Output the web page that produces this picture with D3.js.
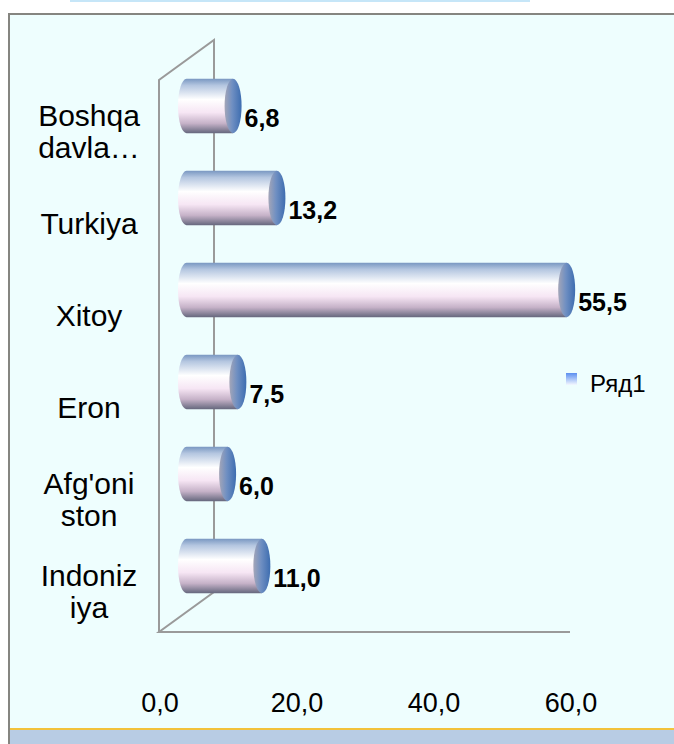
<!DOCTYPE html>
<html>
<head>
<meta charset="utf-8">
<script src="https://cdn.jsdelivr.net/npm/d3@7"></script>
<style>
  body { margin: 0; background: #fff; }
  svg { display: block; font-family: "Liberation Sans", Arial, sans-serif; }
</style>
</head>
<body>
<div id="chart"></div>
<script>
// categories from top to bottom, as in the picture
var categories = ["Boshqa davla…", "Turkiya", "Xitoy", "Eron", "Afg'oniston", "Indoneziya"];
var labelLines = [["Boshqa", "davla…"], ["Turkiya"], ["Xitoy"], ["Eron"], ["Afg'oni", "ston"], ["Indoniz", "iya"]];
var values = [6.8, 13.2, 55.5, 7.5, 6.0, 11.0];
var tickValues = [0, 20, 40, 60];
var seriesName = "Ряд1";

var width = 674, height = 744;
var svg = d3.select("#chart").append("svg")
    .attr("width", width)
    .attr("height", height);

var defs = svg.append("defs");

// cylinder body: blue top, white middle, pinkish, dark bottom
var bodyGrad = defs.append("linearGradient")
    .attr("id", "bodyGrad")
    .attr("x1", 0).attr("y1", 0).attr("x2", 0).attr("y2", 1);
[[0, "#7a98c2"], [0.12, "#b4c6e0"], [0.38, "#ffffff"], [0.62, "#f6e6f4"], [0.82, "#c6b2c8"], [1, "#66687e"]]
    .forEach(function (s) {
        bodyGrad.append("stop").attr("offset", s[0]).attr("stop-color", s[1]);
    });

var capGrad = defs.append("linearGradient")
    .attr("id", "capGrad")
    .attr("x1", 0).attr("y1", 0).attr("x2", 1).attr("y2", 0);
[[0, "#a4a6b8"], [0.45, "#6f8fc2"], [1, "#3d6db0"]]
    .forEach(function (s) {
        capGrad.append("stop").attr("offset", s[0]).attr("stop-color", s[1]);
    });

var legendGrad = defs.append("linearGradient")
    .attr("id", "legendGrad")
    .attr("x1", 0).attr("y1", 0).attr("x2", 0).attr("y2", 1);
legendGrad.append("stop").attr("offset", 0).attr("stop-color", "#5b8ff0");
legendGrad.append("stop").attr("offset", 1).attr("stop-color", "#f4f8ff");

// page pieces: top strip, frame, bottom band
svg.append("rect").attr("x", 70).attr("y", 0).attr("width", 460).attr("height", 2).attr("fill", "#c6e6f8");
svg.append("rect").attr("x", 9).attr("y", 14).attr("width", width - 9).attr("height", height - 14)
    .attr("fill", "#eefefe");
svg.append("rect").attr("x", 10).attr("y", 728).attr("width", width - 10).attr("height", 16).attr("fill", "#b8cce4");
svg.append("rect").attr("x", 10).attr("y", 728).attr("width", width - 10).attr("height", 2).attr("fill", "#f2c23c");
svg.append("rect").attr("x", 8).attr("y", 13).attr("width", width - 8).attr("height", 2).attr("fill", "#858580");
svg.append("rect").attr("x", 8).attr("y", 13).attr("width", 2).attr("height", height - 13).attr("fill", "#858580");

// scales (front plane of the 3d box)
var x = d3.scaleLinear().domain([0, 60]).range([159, 570]);
var y = d3.scaleBand().domain(categories).range([80, 632]);
var depthX = 55, depthY = -40;
var midX = depthX / 2, midY = depthY / 2;

// walls
var wall = svg.append("g").attr("stroke", "#9a9a9a").attr("stroke-width", 2).attr("fill", "none");
wall.append("path").attr("d", d3.line()([
    [x(0), y.range()[1]], [x(0), y.range()[0]], [x(0) + depthX, y.range()[0] + depthY],
    [x(0) + depthX, y.range()[1] + depthY], [x(0), y.range()[1]], [x(60), y.range()[1]]
]));

// bars as horizontal cylinders
var barH = y.bandwidth() * 0.59;
var rx = 8.5, ry = barH / 2;
var bars = svg.selectAll(".bar")
    .data(values)
    .enter().append("g")
    .attr("class", "bar");

bars.append("path")
    .attr("fill", "url(#bodyGrad)")
    .attr("d", function (d, i) {
        var x0 = x(0) + midX, x1 = x(d) + midX;
        var cy = y(categories[i]) + y.bandwidth() / 2 + midY;
        var top = cy - ry, bot = cy + ry;
        return "M" + x0 + "," + top + "L" + x1 + "," + top + "L" + x1 + "," + bot +
            "L" + x0 + "," + bot + "A" + rx + "," + ry + " 0 0 1 " + x0 + "," + top + "Z";
    });

bars.append("ellipse")
    .attr("fill", "url(#capGrad)")
    .attr("cx", function (d) { return x(d) + midX; })
    .attr("cy", function (d, i) { return y(categories[i]) + y.bandwidth() / 2 + midY; })
    .attr("rx", rx)
    .attr("ry", ry);

var fmt = function (v) { return d3.format(".1f")(v).replace(".", ","); };

// value labels
bars.append("text")
    .attr("x", function (d) { return x(d) + midX + rx + 3; })
    .attr("y", function (d, i) { return y(categories[i]) + y.bandwidth() / 2 + midY + 21; })
    .attr("font-size", 25)
    .attr("font-weight", "bold")
    .attr("fill", "#000")
    .text(fmt);

// category labels
var cat = svg.selectAll(".cat")
    .data(labelLines)
    .enter().append("text")
    .attr("class", "cat")
    .attr("text-anchor", "middle")
    .attr("font-size", 30)
    .attr("fill", "#000");
cat.each(function (lines, i) {
    var cy = y(categories[i]) + y.bandwidth() / 2 + 5;
    var lh = 32;
    var start = cy - (lines.length - 1) * lh / 2;
    d3.select(this).selectAll("tspan")
        .data(lines)
        .enter().append("tspan")
        .attr("x", 89)
        .attr("y", function (l, j) { return start + j * lh; })
        .attr("dy", "0.35em")
        .text(function (l) { return l; });
});

// x tick labels
svg.selectAll(".tick-label")
    .data(tickValues)
    .enter().append("text")
    .attr("class", "tick-label")
    .attr("x", function (d) { return x(d) + 1; })
    .attr("y", 712)
    .attr("text-anchor", "middle")
    .attr("font-size", 27)
    .attr("fill", "#000")
    .text(fmt);

// legend
svg.append("rect").attr("x", 566).attr("y", 373).attr("width", 11).attr("height", 12)
    .attr("fill", "url(#legendGrad)");
svg.append("text").attr("x", 590).attr("y", 392).attr("font-size", 24).attr("fill", "#000").text(seriesName);
</script>
</body>
</html>
